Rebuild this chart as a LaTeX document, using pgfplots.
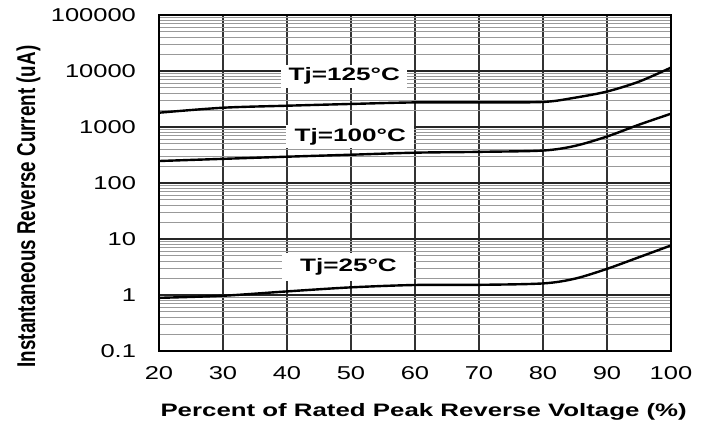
\documentclass[border=0pt]{standalone}
\usepackage{pgfplots}
\pgfplotsset{compat=1.18}
\usepackage{fontspec}
\setmainfont{Liberation Sans}
\newcommand{\hs}[1]{\scalebox{1.37}[1]{#1}}
\newcommand{\hl}[1]{\scalebox{1.45}[1]{#1}}
\begin{document}
\begin{tikzpicture}
\path[use as bounding box] (-79.5pt,-37pt) rectangle (276pt,175.5pt);
\begin{axis}[
  at={(0,0)}, anchor=south west,
  scale only axis, width=256pt, height=168pt,
  xmin=20, xmax=100, ymode=log, ymin=0.1, ymax=100000,
  xtick={20,30,40,50,60,70,80,90,100},
  xticklabels={\hs{20},\hs{30},\hs{40},\hs{50},\hs{60},\hs{70},\hs{80},\hs{90},\hs{100}},
  ytick={0.1,1,10,100,1000,10000,100000},
  yticklabels={\hs{0.1},\hs{1},\hs{10},\hs{100},\hs{1000},\hs{10000},\hs{100000}},
  minor ytick={0.2,0.3,0.4,0.5,0.6,0.7,0.8,0.9,2,3,4,5,6,7,8,9,20,30,40,50,60,70,80,90,200,300,400,500,600,700,800,900,2000,3000,4000,5000,6000,7000,8000,9000,20000,30000,40000,50000,60000,70000,80000,90000},
  xmajorgrids=true, ymajorgrids=true, yminorgrids=true,
  x grid style={black!80, line width=0.8pt},
  y grid style={black!85, line width=0.7pt},
  minor y grid style={black!40, line width=0.4pt},
  major tick length=0pt, minor tick length=0pt,
  axis line style={black, line width=0.8pt},
  tick label style={font=\fontsize{9.3}{10}\selectfont, text=black},
  yticklabel style={xshift=-8pt},
  xticklabel style={yshift=-4pt},
  xlabel={\scalebox{1.435}[1]{\bfseries Percent of Rated Peak Reverse Voltage (\%)}},
  xlabel style={at={(axis description cs:0.517,-0.18)}, anchor=center, font=\fontsize{9}{10}\selectfont},
  ylabel={\scalebox{1}[1.37]{\bfseries Instantaneous Reverse Current (uA)}},
  ylabel style={at={(axis description cs:-0.255,0.43)}, anchor=center, rotate=0, font=\fontsize{9.4}{10}\selectfont},
]
\addplot[black, line width=1.2pt, smooth, tension=0.5] coordinates {
 (20,1800) (30,2210) (40,2400) (50,2580) (60,2750) (70,2750) (80,2800) (85,3340) (90,4300) (95,6460) (100,11500)};
\addplot[black, line width=1.2pt, smooth, tension=0.5] coordinates {
 (20,247) (30,270) (40,295) (50,320) (60,348) (70,360) (80,380) (85,460) (90,676) (95,1100) (100,1727)};
\addplot[black, line width=1.2pt, smooth, tension=0.5] coordinates {
 (20,0.89) (30,0.97) (40,1.16) (50,1.37) (60,1.51) (70,1.52) (80,1.61) (85,1.96) (90,2.93) (95,4.73) (100,7.68)};
\node[fill=white, inner sep=0pt, minimum width=63pt, minimum height=11.5pt, font=\fontsize{9}{10}\selectfont\bfseries] at (axis cs:48.95,8130) {\hl{Tj=125°C}};
\node[fill=white, inner sep=0pt, minimum width=64pt, minimum height=11.5pt, font=\fontsize{9}{10}\selectfont\bfseries] at (axis cs:49.9,681) {\hl{Tj=100°C}};
\node[fill=white, inner sep=0pt, minimum width=66pt, minimum height=14pt, font=\fontsize{9}{10}\selectfont\bfseries] at (axis cs:49.6,3.22) {\hl{Tj=25°C}};
\end{axis}
\end{tikzpicture}
\end{document}
